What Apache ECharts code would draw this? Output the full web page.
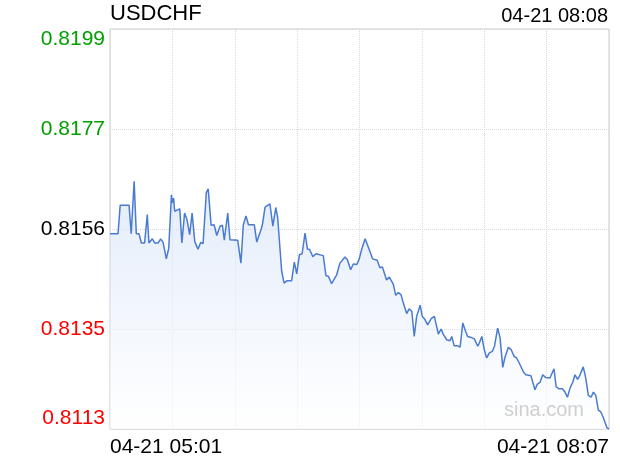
<!DOCTYPE html>
<html>
<head>
<meta charset="utf-8">
<script src="https://cdn.jsdelivr.net/npm/echarts@6/dist/echarts.min.js"></script>
<style>html,body{margin:0;padding:0;background:#fff}#c{width:620px;height:460px}</style>
</head>
<body>
<div id="c"></div>
<script>
var title = 'USDCHF';
var updateTime = '04-21 08:08';
var xTickLabels = ['04-21 05:01', '04-21 08:07'];
var yTickLabels = ['0.8113', '0.8135', '0.8156', '0.8177', '0.8199'];
var yTickColors = ['#f00', '#f00', '#000', '#00a000', '#00a000'];
var prevClose = 0.8156;
var priceMin = 0.81132;
var priceMax = 0.81988;
var spanMinutes = 186;
// minutes after 05:01
var minutes = [0,3,3.8,7.1,7.9,9,9.8,10.8,11.7,12.9,13.9,14.5,15.8,16.7,17.9,18.9,19.8,21,21.9,22.9,23.2,23.7,24.1,26,26.8,27.8,28.7,29.7,30.6,31.6,32.8,33.8,34.7,35.9,36.6,37,37.7,38.8,39.8,41,41.9,42.6,43.9,44.7,47.6,48.8,49.7,50.7,51.6,53.8,54.7,56.3,56.8,57.8,59.6,60.7,61.8,62.5,64,64.9,65.9,67.7,68.7,69.6,70.6,71.6,72.7,73.6,74.4,75.6,76.8,79.5,80.5,81.4,82.6,84.5,85.7,87.6,88.5,89.7,90.7,92,92.9,93.8,95.1,95.7,96.9,97.9,99.6,100.6,101.5,103.1,104.1,104.7,105.6,106.5,107.5,108.5,109.3,110.6,111.5,112.5,113.4,114.3,115.6,116.4,117.2,118.4,119.7,120.9,121.5,122.4,123.4,124.2,125.5,126.7,127.4,128.3,129.6,130.5,131.5,132.3,133.3,134.6,135.8,137.1,137.5,138.6,139.5,140.4,141.4,142.5,143.3,144.5,145.4,146.4,147.2,148.5,149.5,150.7,151.6,152.8,154.1,155,156.9,157.4,158.4,159.3,160.3,161.3,162.4,164,164.6,165.5,166.3,167.4,168.6,169.6,170.5,171.5,172.5,173.3,174.3,175.2,176.4,177.3,178.3,179.3,180.2,181.1,182,183,183.9,185.2,186];
var prices = [0.81550,0.81550,0.81611,0.81611,0.81550,0.81662,0.81550,0.81550,0.81530,0.81530,0.81591,0.81530,0.81539,0.81530,0.81530,0.81539,0.81531,0.81496,0.81519,0.81633,0.81616,0.81626,0.81598,0.81603,0.81530,0.81594,0.81580,0.81548,0.81594,0.81533,0.81517,0.81531,0.81529,0.81638,0.81646,0.81644,0.81568,0.81569,0.81546,0.81566,0.81568,0.81536,0.81594,0.81537,0.81536,0.81487,0.81569,0.81588,0.81569,0.81569,0.81532,0.81559,0.81569,0.81607,0.81614,0.81566,0.81606,0.81584,0.81469,0.81444,0.81449,0.81449,0.81489,0.81464,0.81505,0.81507,0.81551,0.81517,0.81516,0.81501,0.81507,0.81503,0.81460,0.81459,0.81443,0.81462,0.81487,0.81500,0.81494,0.81473,0.81485,0.81484,0.81496,0.81516,0.81539,0.81539,0.81512,0.81496,0.81493,0.81477,0.81479,0.81451,0.81457,0.81456,0.81442,0.81418,0.81424,0.81419,0.81402,0.81379,0.81389,0.81384,0.81330,0.81373,0.81397,0.81373,0.81368,0.81355,0.81368,0.81373,0.81372,0.81335,0.81346,0.81335,0.81323,0.81321,0.81330,0.81310,0.81310,0.81307,0.81359,0.81345,0.81330,0.81328,0.81325,0.81309,0.81314,0.81330,0.81302,0.81284,0.81295,0.81298,0.81309,0.81348,0.81327,0.81264,0.81285,0.81307,0.81302,0.81287,0.81284,0.81270,0.81254,0.81248,0.81246,0.81243,0.81216,0.81228,0.81232,0.81248,0.81242,0.81241,0.81245,0.81261,0.81222,0.81218,0.81218,0.81211,0.81200,0.81220,0.81232,0.81248,0.81238,0.81248,0.81265,0.81242,0.81204,0.81200,0.81211,0.81204,0.81173,0.81168,0.81156,0.81135,0.81132];

var data = minutes.map(function (m, i) { return [m, prices[i]]; });
var FONT = '"Liberation Sans", Arial, Helvetica, sans-serif';
var chart = echarts.init(document.getElementById('c'), null, {renderer: 'canvas'});
chart.setOption({
  animation: false,
  backgroundColor: '#fff',
  grid: {left: 110, right: 11, top: 29, bottom: 31, show: true, borderColor: '#cccccc', borderWidth: 1, containLabel: false},
  graphic: [
    {type: 'text', left: 110, top: 3, style: {text: title, font: '22px ' + FONT, fill: '#000'}},
    {type: 'text', right: 12, top: 6, style: {text: updateTime, font: '20px ' + FONT, fill: '#000'}},
    {type: 'text', right: 36, top: 400, z: 10, style: {text: 'sina.com', font: '20px ' + FONT, fill: '#cfcfcf'}}
  ],
  xAxis: {
    type: 'value', min: 0, max: spanMinutes, interval: spanMinutes / 8,
    axisLine: {show: false}, axisTick: {show: false},
    splitLine: {show: true, lineStyle: {color: '#d8d8d8', type: 'dotted', width: 1}},
    axisLabel: {
      show: true, showMinLabel: true, showMaxLabel: true, margin: 8,
      alignMinLabel: 'left', alignMaxLabel: 'right',
      fontFamily: FONT, fontSize: 21, color: '#000',
      formatter: function (v) {
        if (Math.abs(v) < 1e-6) return xTickLabels[0];
        if (Math.abs(v - spanMinutes) < 1e-6) return xTickLabels[1];
        return '';
      }
    }
  },
  yAxis: [
    {
      type: 'value', min: 0, max: 4, interval: 1,
      axisLine: {show: false}, axisTick: {show: false},
      splitLine: {show: true, lineStyle: {color: '#d8d8d8', type: 'dotted', width: 1}},
      axisLabel: {
        margin: 5, fontFamily: FONT, fontSize: 21,
        verticalAlignMinLabel: 'bottom', verticalAlignMaxLabel: 'top',
        formatter: function (v) { return yTickLabels[v]; },
        color: function (v, i) { return yTickColors[Math.round(Number(v))]; }
      }
    },
    {type: 'value', show: false, min: priceMin, max: priceMax, splitLine: {show: false}}
  ],
  series: [{
    type: 'line', xAxisIndex: 0, yAxisIndex: 1, data: data,
    symbol: 'none', smooth: false,
    lineStyle: {color: '#4a7bd1', width: 1.5},
    areaStyle: {origin: 'start', color: new echarts.graphic.LinearGradient(0, 0, 0, 1, [
      {offset: 0, color: 'rgba(212,226,248,0.9)'},
      {offset: 1, color: 'rgba(255,255,255,0.9)'}
    ])},
    markLine: {
      silent: true, symbol: 'none', label: {show: false},
      lineStyle: {color: '#aaaaaa', type: [3, 2], width: 1},
      data: [{yAxis: prevClose}]
    }
  }]
});
</script>
</body>
</html>
